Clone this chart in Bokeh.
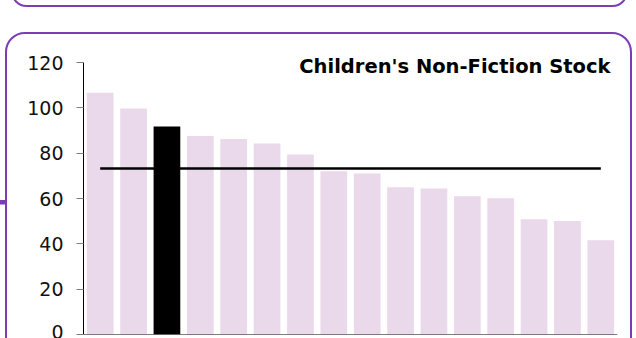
import numpy as np
from bokeh.plotting import figure
from bokeh.models import (Range1d, FixedTicker, Label, Span, ColumnDataSource,
                          GlobalInlineStyleSheet)
from bokeh.embed import file_html
from bokeh.resources import INLINE

# ---- data ----
categories = ["A", "B", "C", "D", "E", "F", "G", "H",
              "I", "J", "K", "L", "M", "N", "O", "P"]
values = [106.6, 99.7, 91.8, 87.6, 86.2, 84.3, 79.4, 72.0,
          71.0, 65.0, 64.4, 61.0, 60.1, 50.9, 50.1, 41.6]
highlight = "C"
y_ticks = [0, 20, 40, 60, 80, 100, 120]
title_text = "Children's Non-Fiction Stock"

average = float(np.mean(values))

BAR = "#EAD8EB"
PURPLE = "#7D3CB5"
colors = ["#000000" if c == highlight else BAR for c in categories]
src = ColumnDataSource(dict(cat=categories, val=values, color=colors))

# frame: 334 px tall, of which 272 px hold 0..120
y_top = y_ticks[-1] * 334.0 / 272.0

p = figure(x_range=categories, y_range=Range1d(y_ticks[0], y_top),
           width=636, height=338, output_backend="svg", toolbar_location=None,
           x_axis_location=None,
           min_border_left=83, min_border_top=0, min_border_right=19, min_border_bottom=4,
           outline_line_color=None, background_fill_color=None, border_fill_color=None)

p.xgrid.visible = False
p.ygrid.visible = False

p.vbar(x="cat", top="val", width=0.8, fill_color="color", line_color=None, source=src)
p.line(x=[categories[0], categories[-1]], y=[average, average],
       line_color="black", line_width=2.7)

p.add_layout(Span(location=y_ticks[0], dimension="width", line_color="black", line_width=1))

ax = p.yaxis[0]
ax.ticker = FixedTicker(ticks=y_ticks)
ax.bounds = (y_ticks[0], y_ticks[-1])
ax.axis_line_color = "black"
ax.axis_line_width = 1
ax.major_tick_line_color = "#808080"
ax.major_tick_out = 7
ax.major_tick_in = 0
ax.minor_tick_line_color = None
ax.major_label_text_font = "DejaVu Sans"
ax.major_label_text_font_size = "19px"
ax.major_label_text_color = "#111111"
ax.major_label_standoff = 13

p.add_layout(Label(x=len(categories), y=118.4, x_offset=-7, text=title_text,
                   text_align="right", text_baseline="alphabetic",
                   text_font="DejaVu Sans", text_font_style="bold",
                   text_font_size="19.5px", text_color="black"))

# decorative rounded panels of the surrounding page
css = """
html, body { margin: 0; }
html { background: linear-gradient(%(c)s, %(c)s) no-repeat 0px 200px / 5px 4.5px, #ffffff; }
body::before { content: ""; position: fixed; left: 4.5px; top: 31.5px; width: 627px; height: 420px;
  box-sizing: border-box; border: 2px solid %(c)s; border-radius: 20px; z-index: 10; pointer-events: none; }
body::after { content: ""; position: fixed; left: 10.5px; top: -40px; width: 617.5px; height: 46.7px;
  box-sizing: border-box; border: 2px solid %(c)s; border-radius: 15.5px; z-index: 10; pointer-events: none; }
""" % {"c": PURPLE}
p.stylesheets = [GlobalInlineStyleSheet(css=css)]

open("out.html", "w").write(file_html(p, INLINE))
